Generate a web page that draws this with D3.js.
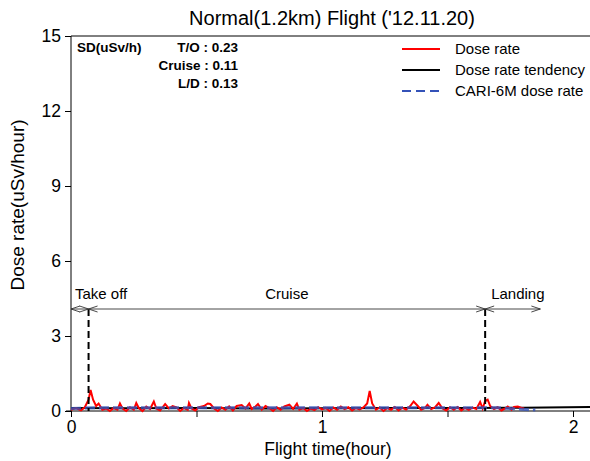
<!DOCTYPE html>
<html lang="en">
<head>
<meta charset="UTF-8">
<title>Normal Flight dose rate</title>
<script src="https://d3js.org/d3.v7.min.js"></script>
<style>
    html, body { margin: 0; padding: 0; background: white; }
    svg { display: block; font-family: 'Liberation Sans', Arial, sans-serif; }
</style>
</head>
<body>
<div class="content"></div>
<script>
// measured dose rate (uSv/h) vs flight time (hour)
const doseTime = [0.00, 0.02, 0.04, 0.055, 0.07, 0.078, 0.088, 0.10, 0.11, 0.125, 0.14, 0.155, 0.17, 0.185, 0.195, 0.205,
    0.22, 0.235, 0.25, 0.26, 0.27, 0.285, 0.30, 0.315, 0.33, 0.34, 0.355, 0.375, 0.39, 0.405, 0.42, 0.435, 0.45, 0.465,
    0.47, 0.48, 0.495, 0.51, 0.53, 0.545, 0.555, 0.57, 0.585, 0.60, 0.615, 0.63, 0.645, 0.66, 0.68, 0.695, 0.71, 0.72,
    0.735, 0.745, 0.76, 0.775, 0.79, 0.805, 0.82, 0.835, 0.85, 0.87, 0.885, 0.90, 0.91, 0.925, 0.94, 0.955, 0.97, 0.985,
    1.00, 1.015, 1.03, 1.045, 1.06, 1.075, 1.09, 1.105, 1.12, 1.135, 1.15, 1.165, 1.18, 1.19, 1.20, 1.215, 1.23, 1.245,
    1.26, 1.275, 1.29, 1.305, 1.32, 1.335, 1.35, 1.365, 1.38, 1.395, 1.41, 1.42, 1.435, 1.45, 1.465, 1.48, 1.495, 1.51,
    1.525, 1.54, 1.555, 1.57, 1.585, 1.60, 1.615, 1.63, 1.64, 1.65, 1.66, 1.67, 1.685, 1.70, 1.715, 1.73, 1.74, 1.755,
    1.765, 1.78, 1.795, 1.805];
const doseRate = [0.05, 0.12, 0.03, 0.15, 0.45, 0.84, 0.45, 0.20, 0.30, 0.05, 0.10, 0.00, 0.12, 0.05, 0.30, 0.10,
    0.00, 0.15, 0.05, 0.32, 0.12, 0.00, 0.18, 0.08, 0.38, 0.10, 0.02, 0.28, 0.10, 0.20, 0.15, 0.00, 0.12, 0.05,
    0.32, 0.10, 0.02, 0.15, 0.20, 0.30, 0.28, 0.10, 0.00, 0.14, 0.05, 0.18, 0.02, 0.20, 0.24, 0.10, 0.30, 0.08,
    0.18, 0.28, 0.05, 0.20, 0.12, 0.00, 0.15, 0.05, 0.18, 0.25, 0.08, 0.30, 0.05, 0.12, 0.00, 0.10, 0.04, 0.15,
    0.06, 0.12, 0.00, 0.14, 0.05, 0.18, 0.08, 0.15, 0.02, 0.12, 0.06, 0.14, 0.30, 0.80, 0.30, 0.05, 0.14, 0.00,
    0.12, 0.05, 0.16, 0.02, 0.13, 0.06, 0.18, 0.38, 0.22, 0.05, 0.12, 0.25, 0.08, 0.14, 0.32, 0.10, 0.02, 0.15,
    0.05, 0.16, 0.02, 0.12, 0.05, 0.14, 0.08, 0.36, 0.10, 0.40, 0.45, 0.20, 0.08, 0.15, 0.02, 0.10, 0.18, 0.05,
    0.16, 0.18, 0.12, 0.10];

// tendency line
const trendTime = [0, 0.2, 0.5, 0.8, 1.0, 1.3, 1.6, 1.8, 2.1];
const trendRate = [0.12, 0.11, 0.12, 0.10, 0.11, 0.12, 0.12, 0.13, 0.16];

// CARI-6M calculation
const cariTime = [0, 0.1, 0.5, 1.0, 1.5, 1.7, 1.78, 1.85];
const cariRate = [0.10, 0.13, 0.13, 0.13, 0.13, 0.13, 0.08, 0.04];

// flight phases
const phaseBounds = [0, 0.07, 1.65, 1.87];
const phaseNames = ["Take off", "Cruise", "Landing"];
const phaseLevel = 4.08;

const yTicks = [0, 3, 6, 9, 12, 15];
const xTicks = [0, 0.5, 1, 1.5, 2];
const xLabels = ["0", "", "1", "", "2"];

const sdLines = [["SD(uSv/h)", "T/O : 0.23"], ["", "Cruise : 0.11"], ["", "L/D : 0.13"]];
const legendNames = ["Dose rate", "Dose rate tendency", "CARI-6M dose rate"];
const legendColors = ["#ff0000", "#000000", "#3452b8"];

const w = 590;
const h = 461;
const font = "'Liberation Sans', Arial, sans-serif";

const x = d3.scaleLinear().domain([0, 2]).range([71, 573]);
const y = d3.scaleLinear().domain([0, 15]).range([411, 36]);

const svg = d3.select(".content")
    .append("svg")
    .attr("width", w)
    .attr("height", h);

// title
svg.append("text")
    .attr("x", 332)
    .attr("y", 25)
    .attr("text-anchor", "middle")
    .attr("font-size", "20px")
    .text("Normal(1.2km) Flight ('12.11.20)");

// top frame line
svg.append("line")
    .attr("x1", x(0)).attr("x2", w)
    .attr("y1", y(15)).attr("y2", y(15))
    .attr("stroke", "black");

// axes
const yAxis = svg.append("g")
    .attr("transform", "translate(" + x(0) + ",0)")
    .call(d3.axisLeft(y).tickValues(yTicks).tickSize(6).tickPadding(4).tickFormat(d3.format("d")));
yAxis.select(".domain").attr("d", "M0," + y(15) + "V" + y(0));
yAxis.selectAll("text").attr("font-size", "17.5px").attr("font-family", font);

const xAxis = svg.append("g")
    .attr("transform", "translate(0," + y(0) + ")")
    .call(d3.axisBottom(x).tickValues(xTicks).tickSize(6).tickPadding(4).tickFormat((d, i) => xLabels[i]));
xAxis.select(".domain").attr("d", "M" + (x(0) - 5) + ",0H" + w);
xAxis.selectAll("text").attr("font-size", "17.5px").attr("font-family", font);

// axis titles
svg.append("text")
    .attr("transform", "translate(24,205) rotate(-90)")
    .attr("text-anchor", "middle")
    .attr("font-size", "19px")
    .text("Dose rate(uSv/hour)");

svg.append("text")
    .attr("x", 328)
    .attr("y", 455)
    .attr("text-anchor", "middle")
    .attr("font-size", "17.5px")
    .text("Flight time(hour)");

// series
const line = d3.line().x(d => x(d[0])).y(d => y(d[1]));

svg.append("path")
    .datum(trendTime.map((t, i) => [t, trendRate[i]]))
    .attr("d", line)
    .attr("fill", "none")
    .attr("stroke", "black")
    .attr("stroke-width", 2);

svg.append("path")
    .datum(doseTime.map((t, i) => [t, doseRate[i]]))
    .attr("d", line)
    .attr("fill", "none")
    .attr("stroke", "#ff0000")
    .attr("stroke-width", 2);

svg.append("path")
    .datum(cariTime.map((t, i) => [t, cariRate[i]]))
    .attr("d", line)
    .attr("fill", "none")
    .attr("stroke", "#3452b8")
    .attr("stroke-opacity", 0.8)
    .attr("stroke-width", 3)
    .attr("stroke-dasharray", "10,4");

// phase boundaries (dashed verticals)
svg.selectAll("line.phase")
    .data(phaseBounds.slice(1, 3))
    .enter()
    .append("line")
    .attr("class", "phase")
    .attr("x1", d => x(d)).attr("x2", d => x(d))
    .attr("y1", y(phaseLevel)).attr("y2", y(0))
    .attr("stroke", "black")
    .attr("stroke-width", 2)
    .attr("stroke-dasharray", "7,4");

// phase arrows
const arrowY = y(phaseLevel);
const phases = phaseNames.map((n, i) => ({ name: n, a: phaseBounds[i], b: phaseBounds[i + 1] }));

phases.forEach(p => {
    const x1 = x(p.a), x2 = x(p.b);
    svg.append("path")
        .attr("d", "M" + x1 + "," + arrowY + "H" + x2
            + "M" + (x1 + 9) + "," + (arrowY - 3) + "L" + x1 + "," + arrowY + "L" + (x1 + 9) + "," + (arrowY + 3)
            + "M" + (x2 - 9) + "," + (arrowY - 3) + "L" + x2 + "," + arrowY + "L" + (x2 - 9) + "," + (arrowY + 3))
        .attr("fill", "none")
        .attr("stroke", "#333")
        .attr("stroke-width", 0.9);
});

svg.append("text").attr("x", x(0) + 4).attr("y", arrowY - 10)
    .attr("font-size", "15px").text(phaseNames[0]);
svg.append("text").attr("x", (x(phaseBounds[1]) + x(phaseBounds[2])) / 2).attr("y", arrowY - 10)
    .attr("text-anchor", "middle").attr("font-size", "15px").text(phaseNames[1]);
svg.append("text").attr("x", x(phaseBounds[2]) + 6).attr("y", arrowY - 10)
    .attr("font-size", "15px").text(phaseNames[2]);

// SD box text
sdLines.forEach((r, i) => {
    svg.append("text").attr("x", 77).attr("y", 52 + i * 18)
        .attr("font-size", "13.5px").attr("font-weight", "bold").text(r[0]);
    svg.append("text").attr("x", 238).attr("y", 52 + i * 18)
        .attr("text-anchor", "end")
        .attr("font-size", "13.5px").attr("font-weight", "bold").text(r[1]);
});

// legend
legendNames.forEach((n, i) => {
    const ly = 49 + i * 21;
    svg.append("line")
        .attr("x1", 402).attr("x2", 440)
        .attr("y1", ly).attr("y2", ly)
        .attr("stroke", legendColors[i])
        .attr("stroke-width", 2.2)
        .attr("stroke-dasharray", i == 2 ? "9,5" : null);
    svg.append("text").attr("x", 455).attr("y", ly + 5)
        .attr("font-size", "15px").text(n);
});
</script>
</body>
</html>
